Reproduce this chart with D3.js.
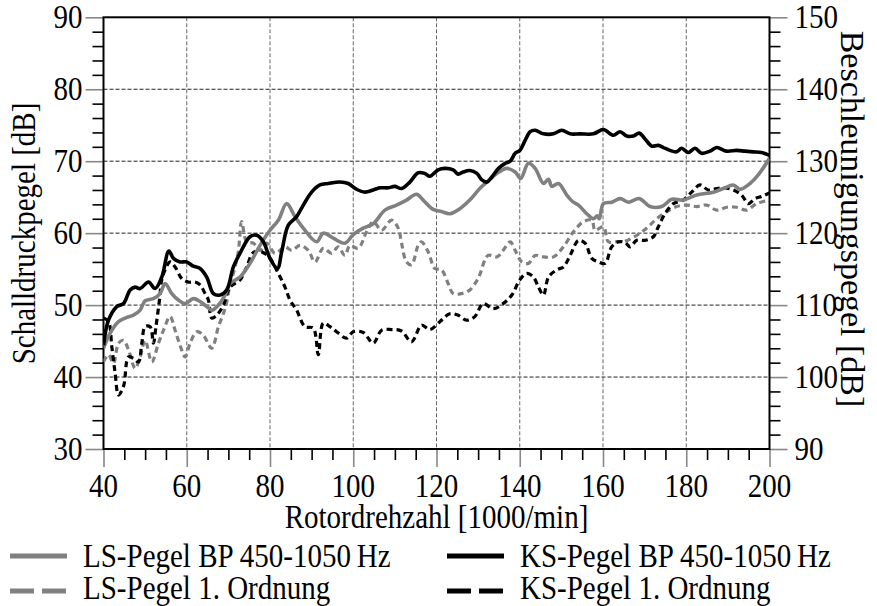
<!DOCTYPE html>
<html><head><meta charset="utf-8">
<script src="https://cdn.jsdelivr.net/npm/d3@7"></script>
<style>
html,body{margin:0;padding:0;background:#fff;}
svg{display:block;}
text{font-family:"Liberation Serif","Times New Roman",serif;fill:#000;}
</style></head>
<body><svg id="chart" width="877" height="606"></svg>
<script>
// ---------- data ----------
const xDomain = [40, 200];
const leftDomain = [30, 90];
const rightDomain = [90, 150];
const xMajorTicks = [40, 60, 80, 100, 120, 140, 160, 180, 200];
const leftMajorTicks = [30, 40, 50, 60, 70, 80, 90];
const rightMajorTicks = [90, 100, 110, 120, 130, 140, 150];

const xTitle = "Rotordrehzahl [1000/min]";
const leftTitle = "Schalldruckpegel [dB]";
const rightTitle = "Beschleunigungspegel [dB]";

const seriesNames = ["LS-Pegel BP 450-1050\u2009Hz", "KS-Pegel BP 450-1050\u2009Hz", "LS-Pegel 1. Ordnung", "KS-Pegel 1. Ordnung"];

// LS-Pegel BP 450-1050 Hz (left axis, dB)
const lsBpX = [40,41.6,43.6,45.2,47.2,48.8,50,52,53.6,54.8,56.4,58,59.6,61.6,63.2,64.8,66,67.6,69.2,70.4,72.8,75.2,77.6,80,82,84,86,88,91.2,92.8,95.2,98,100,102.4,104.8,107.6,110.4,112.8,115.2,116.8,119.2,121.2,123.2,125.6,128,130.4,132.1,134.5,136.9,138.9,140.2,142.1,143.7,145.7,146.9,147.7,149.3,151.3,152.9,154.1,156.1,157.7,158.6,159.1,160.1,162.1,164.1,166.1,168.7,171.3,174.1,176.5,179.3,182.5,186.5,188.9,191.3,192.9,195.3,197.3,200];
const lsBpY = [44.0,46.1,47.7,48.2,48.6,49.3,50.6,50.9,51.6,53.0,51.6,50.7,50.2,50.9,50.5,49.8,49.3,50.0,51.4,53.0,53.9,55.8,58.3,60.4,61.8,64.1,62.3,60.7,58.8,60.0,59.3,58.6,59.8,60.7,61.3,63.2,63.9,64.6,65.4,64.6,63.3,63.0,62.7,63.4,64.6,66.2,67.1,68.3,69.0,68.5,67.6,69.7,69.0,66.9,67.5,66.5,66.9,65.3,64.3,63.9,62.7,62.0,62.4,62.0,64.1,64.3,64.8,64.3,64.8,63.7,63.7,64.7,64.6,65.3,65.7,66.2,66.7,66.1,66.9,68.1,70.4];

// KS-Pegel BP 450-1050 Hz (right axis, dB)
const ksBpX = [40,41.2,43.2,44.8,46.4,47.6,48.8,50.8,52.4,54,55.7,56.8,58.4,60,61.6,63.2,64.8,66.4,68,69.6,71.2,72.8,75.2,76.8,78.4,80,81.8,82.8,84.4,86.4,88,90,92,94,96.8,98.8,100.8,102.8,104.8,106.4,108.4,110,111.6,113.6,115.6,117.2,118.4,120.4,122,124,125.2,126.4,128,129.7,130.9,132.1,133.3,134.9,136.5,137.7,138.9,140,141.3,142.5,143.7,145.7,148.1,150.1,152.1,154.5,157.7,160.1,162.5,164.1,165.7,167.3,168.7,170.1,171.7,173.3,174.5,176.1,177.7,178.9,180.5,182.1,183.7,185.7,187.3,189.7,192.1,194.1,196.1,198.1,200];
const ksBpY = [104.4,107.9,109.8,110.2,112.1,112.5,112.3,113.2,112.3,113.9,117.5,116.5,116.0,116.0,115.4,115.1,113.9,111.6,111.4,112.1,115.3,117.2,119.5,119.7,118.8,116.5,115.1,117.4,121.1,122.3,123.9,125.7,126.7,126.9,127.1,126.9,126.1,125.7,126.0,126.3,126.3,126.5,126.2,127.1,128.4,128.3,127.9,128.8,129.0,128.8,128.2,128.5,128.7,128.3,127.4,127.1,127.8,129.0,129.7,130.0,131.1,131.5,132.9,134.1,134.3,133.8,133.8,134.3,133.8,133.8,133.8,134.4,133.6,134.1,133.5,133.5,133.9,133.1,132.1,132.2,131.9,131.5,131.3,131.8,131.2,131.8,131.1,131.4,131.9,131.4,131.5,131.4,131.3,131.2,130.8];

// LS-Pegel 1. Ordnung (left axis, dB)
const lsOrdX = [40,41.2,42.4,43.6,44.8,46,47.6,48.8,50,51.6,53.2,54.4,56,57.2,58.4,59.6,60.8,62.4,64,66,67.6,69.2,70.4,71.6,72.4,73.2,74.4,76,77.6,79.2,81.2,83.6,85.2,87.2,89.2,90.8,92.8,94.8,96.4,98,99.2,101.2,103.2,104.8,106.8,109.2,110.8,111.6,112.8,114,115.6,116.4,118,119.6,121.2,122.8,124,126,128,130,132.4,134.5,136,137.7,138.9,140.5,142.1,143.7,145.7,148.1,150.5,152.9,155.3,157.3,158.1,160.1,161.3,163.3,164.9,166.9,168.9,170.9,172.9,175.3,177.7,180.1,182.5,184.9,187.3,189.7,192.1,194.5,196.9,200];
const lsOrdY = [42.1,43.1,41.9,44.7,45.1,43.8,41.2,42.8,45.1,42.1,44.7,46.5,48.4,46.5,44.4,42.8,44.7,46.3,45.8,44.0,47.0,49.5,52.8,55.3,57.5,61.6,58.8,58.6,57.6,58.6,57.2,58.1,57.6,58.3,57.6,56.0,57.9,57.2,58.1,56.9,58.3,57.9,60.2,61.6,60.4,61.8,60.7,58.6,56.0,55.6,58.3,58.8,57.4,55.1,54.9,53.0,51.6,51.6,52.1,53.7,56.9,56.7,57.6,58.8,57.6,56.0,55.8,56.9,56.7,56.7,58.1,60.2,61.6,61.8,60.4,60.9,58.8,58.8,58.8,59.3,60.0,60.9,62.0,63.0,63.7,63.9,63.7,63.9,63.2,63.6,63.6,63.2,64.1,64.6];

// KS-Pegel 1. Ordnung (right axis, dB)
const ksOrdX = [40,41.2,42,42.8,43.6,44.8,46,47.2,48.4,49.2,50,51.2,52,52.6,53.4,54,54.8,56,57.2,58.8,60.4,62,63.2,64.4,65.2,66,67.2,68.8,70.4,72.8,74.4,76,78,80,82,83.6,84.8,86.4,88.4,90.4,91.6,92.8,94.4,96,98.4,100,102.4,104.8,106.8,109.2,111.6,114,116.4,118.4,120.8,123.2,125.2,127.2,129.2,131.2,133.6,136,138.1,140,141.7,143.3,144.5,145.7,146.9,148.9,150.5,152.1,154.1,155.7,157.3,158.9,160.5,162.1,163.7,165.3,166.5,168.1,170.1,172.1,173.3,174.9,176.9,179.3,181.3,183.3,185.3,187.3,189.3,191.3,193.3,194.9,196.5,198.1,200];
const ksOrdY = [108.2,107.7,104.2,100.5,97.5,98.7,102.8,102.6,102.1,104.7,107.0,107.0,104.7,107.0,110.5,113.5,114.9,116.0,115.3,113.7,113.2,113.2,112.8,111.6,110.7,108.2,108.6,110.0,112.5,113.5,115.3,117.3,117.4,116.5,114.4,112.5,110.7,109.3,107.0,106.8,103.1,107.5,107.0,106.3,105.4,106.3,106.2,104.7,106.5,106.6,106.4,104.9,107.2,106.6,107.7,108.8,108.6,107.9,108.4,110.2,109.5,110.2,111.4,113.5,114.4,113.9,112.5,111.4,113.9,114.9,115.3,116.9,119.0,118.6,116.5,116.0,115.8,118.1,118.8,118.7,118.1,119.0,119.0,119.5,120.9,122.7,124.1,124.6,125.7,126.7,126.0,126.2,126.3,126.0,125.3,124.1,124.8,125.1,125.6];

// ---------- chart ----------
const svg = d3.select("#chart");
const L = 103.5, R = 769.5, T = 17.3, B = 449;
const FS = 29;      // font size (sets glyph width)
const SY = 1.15;    // vertical stretch of the reference's narrow serif face

const x = d3.scaleLinear().domain(xDomain).range([L, R]);
const yL = d3.scaleLinear().domain(leftDomain).range([B, T]);
const yR = d3.scaleLinear().domain(rightDomain).range([B, T]);

function label(g, tx, ty, str, anchor, size, rot, sy) {
  return g.append("text")
    .attr("transform", `translate(${tx},${ty})${rot ? ` rotate(${rot})` : ""} scale(1,${sy || SY})`)
    .attr("text-anchor", anchor).attr("font-size", size).text(str);
}

// grid
const grid = svg.append("g");
grid.selectAll("line.h").data(leftMajorTicks.filter(v => v > leftDomain[0] && v < leftDomain[1]))
  .join("line").attr("x1", L).attr("x2", R).attr("y1", d => yL(d)).attr("y2", d => yL(d))
  .attr("stroke", "#222").attr("stroke-width", 1).attr("stroke-dasharray", "4,2");
grid.selectAll("line.v").data(xMajorTicks.filter(v => v > xDomain[0] && v < xDomain[1]))
  .join("line").attr("y1", T).attr("y2", B).attr("x1", d => x(d)).attr("x2", d => x(d))
  .attr("stroke", "#666").attr("stroke-width", 1).attr("stroke-dasharray", "4,2");

function styleAxis(g, color, width) {
  g.select(".domain").remove();
  g.selectAll(".tick line").attr("stroke", color).attr("stroke-width", width);
}
const range = (a, b, s) => d3.range(a, b + 1e-9, s);

// minor ticks
svg.append("g").attr("transform", `translate(0,${B})`)
  .call(d3.axisBottom(x).tickValues(range(40, 200, 5).filter(v => v % 20 !== 0)).tickSize(11).tickFormat(""))
  .call(g => styleAxis(g, "#000", 1.6));
svg.append("g").attr("transform", `translate(${L},0)`)
  .call(d3.axisLeft(yL).tickValues(range(30, 90, 2).filter(v => v % 10 !== 0)).tickSize(11).tickFormat(""))
  .call(g => styleAxis(g, "#000", 1.6));
svg.append("g").attr("transform", `translate(${R},0)`)
  .call(d3.axisRight(yR).tickValues(range(90, 150, 2).filter(v => v % 10 !== 0)).tickSize(11).tickFormat(""))
  .call(g => styleAxis(g, "#000", 1.6));

// major ticks
svg.append("g").attr("transform", `translate(0,${B})`)
  .call(d3.axisBottom(x).tickValues(xMajorTicks).tickSize(18).tickFormat(""))
  .call(g => styleAxis(g, "#888", 1.6));
svg.append("g").attr("transform", `translate(${L},0)`)
  .call(d3.axisLeft(yL).tickValues(leftMajorTicks).tickSize(18).tickFormat(""))
  .call(g => styleAxis(g, "#888", 1.6));
svg.append("g").attr("transform", `translate(${R},0)`)
  .call(d3.axisRight(yR).tickValues(rightMajorTicks).tickSize(18).tickFormat(""))
  .call(g => styleAxis(g, "#888", 1.6));

// tick labels
const tl = svg.append("g");
const capH = FS * 0.66 * SY;
xMajorTicks.forEach(v => label(tl, x(v), 497, String(v), "middle", FS));
leftMajorTicks.forEach(v => label(tl, L - 21, yL(v) + capH / 2, String(v), "end", FS));
rightMajorTicks.forEach(v => label(tl, R + 25, yR(v) + capH / 2, String(v), "start", FS));

// frame
svg.append("rect").attr("x", L).attr("y", T).attr("width", R - L).attr("height", B - T)
  .attr("fill", "none").attr("stroke", "#000").attr("stroke-width", 2);

// lines
svg.append("clipPath").attr("id", "clip").append("rect").attr("x", L).attr("y", T - 2).attr("width", R - L).attr("height", B - T + 4);
const plot = svg.append("g").attr("clip-path", "url(#clip)");
const zip = (xs, ys) => xs.map((v, i) => [v, ys[i]]);
const series = [
  { data: zip(lsOrdX, lsOrdY), y: yL, color: "#808080", dash: "6,4", w: 3.2 },
  { data: zip(ksOrdX, ksOrdY), y: yR, color: "#000", dash: "6,4", w: 3.2 },
  { data: zip(lsBpX, lsBpY), y: yL, color: "#808080", dash: null, w: 3.6 },
  { data: zip(ksBpX, ksBpY), y: yR, color: "#000", dash: null, w: 3.6 }
];
series.forEach(s => {
  const line = d3.line().x(d => x(d[0])).y(d => s.y(d[1])).curve(d3.curveCatmullRom.alpha(0.5));
  plot.append("path").attr("d", line(s.data)).attr("fill", "none")
    .attr("stroke", s.color).attr("stroke-width", s.w)
    .attr("stroke-dasharray", s.dash).attr("stroke-linejoin", "round");
});

// titles
const tg = svg.append("g");
label(tg, (L + R) / 2, 528, xTitle, "middle", FS);
label(tg, 35, 233.5, leftTitle, "middle", FS, -90);
label(tg, 841, 219, rightTitle, "middle", 34, 90, 1.02);

// legend
const legend = [
  { name: seriesNames[0], color: "#808080", dash: null, lx: 10, ly: 556, ty: 567 },
  { name: seriesNames[1], color: "#000", dash: null, lx: 447, ly: 556, ty: 567 },
  { name: seriesNames[2], color: "#808080", dash: "24,8", lx: 10, ly: 591, ty: 599 },
  { name: seriesNames[3], color: "#000", dash: "24,8", lx: 447, ly: 591, ty: 599 }
];
const lg = svg.append("g");
legend.forEach(d => {
  lg.append("line").attr("x1", d.lx).attr("x2", d.lx + 57).attr("y1", d.ly).attr("y2", d.ly)
    .attr("stroke", d.color).attr("stroke-width", 5).attr("stroke-dasharray", d.dash);
  label(lg, d.lx + 73, d.ty, d.name, "start", FS);
});
</script></body></html>
